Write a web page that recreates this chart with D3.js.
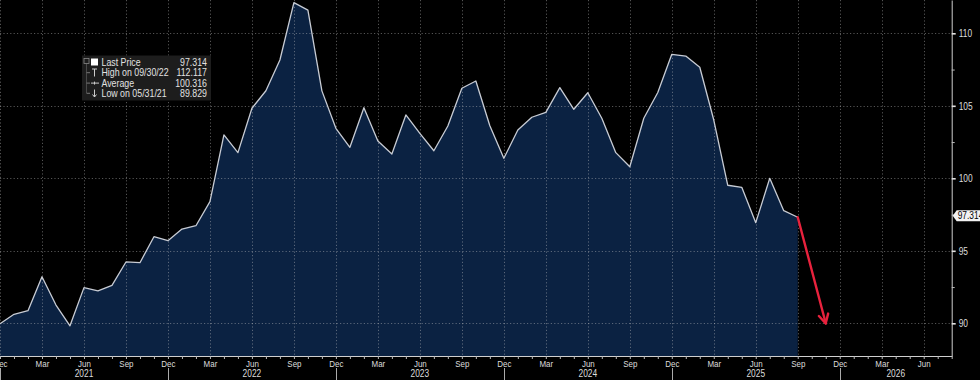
<!DOCTYPE html>
<html><head><meta charset="utf-8">
<script src="https://cdn.jsdelivr.net/npm/d3@7"></script>
<style>
html,body{margin:0;padding:0;background:#000;}
svg{display:block;}
text{font-family:'Liberation Sans',Arial,sans-serif;}
</style></head><body>
<svg id="c" width="980" height="380"></svg>
<script>
// ---- data ----
const months = ["2020-12","2021-01","2021-02","2021-03","2021-04","2021-05","2021-06","2021-07","2021-08","2021-09","2021-10","2021-11",
"2021-12","2022-01","2022-02","2022-03","2022-04","2022-05","2022-06","2022-07","2022-08","2022-09","2022-10","2022-11",
"2022-12","2023-01","2023-02","2023-03","2023-04","2023-05","2023-06","2023-07","2023-08","2023-09","2023-10","2023-11",
"2023-12","2024-01","2024-02","2024-03","2024-04","2024-05","2024-06","2024-07","2024-08","2024-09","2024-10","2024-11",
"2024-12","2025-01","2025-02","2025-03","2025-04","2025-05","2025-06","2025-07","2025-08","2025-09"];
const values = [89.97,90.62,90.87,93.21,91.26,89.829,92.46,92.23,92.62,94.23,94.18,95.97,
95.70,96.50,96.73,98.39,102.99,101.77,104.83,106.04,108.16,112.117,111.6,106.03,
103.45,102.14,104.87,102.57,101.68,104.37,103.1,101.9,103.61,106.21,106.71,103.62,
101.38,103.33,104.21,104.55,106.25,104.76,105.9,104.14,101.77,100.8,104.14,105.92,
108.55,108.43,107.66,104.02,99.52,99.38,96.94,100.0,97.77,97.314];
const axisMonths = ["2020-12","2021-03","2021-06","2021-09","2021-12","2022-03","2022-06","2022-09","2022-12","2023-03","2023-06","2023-09",
"2023-12","2024-03","2024-06","2024-09","2024-12","2025-03","2025-06","2025-09","2025-12","2026-03","2026-06"];
const axisEnd = "2026-08";
const monthNames = ["Jan","Feb","Mar","Apr","May","Jun","Jul","Aug","Sep","Oct","Nov","Dec"];
const yearLabels = ["2021","2022","2023","2024","2025","2026"];
const yTicks = [90,95,100,105,110];
const yMinorTicks = [92.5,97.5,102.5,107.5];
const legendLabels = ["Last Price","High on 09/30/22","Average","Low on 05/31/21"];
const legendValues = ["97.314","112.117","100.316","89.829"];
const lastPrice = 97.314;
const arrowFrom = ["2025-09", 97.314];
const arrowTo = ["2025-11", 90];

// ---- helpers ----
const mIdx = s => { const [yy,mm] = s.split("-").map(Number); return (yy-2020)*12 + (mm-12); };
const svg = d3.select("#c");
svg.append("rect").attr("width",980).attr("height",380).attr("fill","#000");

const W = 951.7, H = 356;
const x = d3.scaleLinear().domain([0, mIdx(axisEnd)]).range([0, W]);
const y = d3.scaleLinear().domain([87.745, 112.297]).range([H, 0]);

// area + line
const pts = months.map((m,i)=>({i:mIdx(m), v:values[i]}));
svg.append("path").datum(pts)
  .attr("d", d3.area().x(d=>x(d.i)).y0(H).y1(d=>y(d.v)))
  .attr("fill","#0b2242");

// grid
const grid = svg.append("g").attr("stroke","rgba(200,200,200,0.42)").attr("stroke-dasharray","1.2,2.2").attr("stroke-width",1);
grid.selectAll("line.h").data(yTicks).enter().append("line")
  .attr("x1",0).attr("x2",W).attr("y1",d=>Math.round(y(d))+0.5).attr("y2",d=>Math.round(y(d))+0.5);
grid.selectAll("line.v").data(axisMonths).enter().append("line")
  .attr("x1",d=>Math.round(x(mIdx(d)))+0.5).attr("x2",d=>Math.round(x(mIdx(d)))+0.5).attr("y1",0).attr("y2",H);

svg.append("path").datum(pts)
  .attr("d", d3.line().x(d=>x(d.i)).y(d=>y(d.v)))
  .attr("fill","none").attr("stroke","#c8ccd4").attr("stroke-width",1.3).attr("stroke-linejoin","round");

// right axis
const ya = svg.append("g").attr("transform",`translate(${W},0)`)
  .call(d3.axisRight(y).tickValues(yTicks).tickSize(4).tickSizeOuter(0).tickPadding(3));
ya.select(".domain").attr("stroke","#cfcfcf");
ya.selectAll(".tick line").attr("stroke","#e0e0e0").attr("stroke-width",1.6);
ya.selectAll("text").attr("fill","#dcdcdc").attr("font-size","10px");
const ym = svg.append("g").attr("transform",`translate(${W},0)`)
  .call(d3.axisRight(y).tickValues(yMinorTicks).tickSize(3).tickSizeOuter(0).tickFormat(""));
ym.select(".domain").remove();
ym.selectAll(".tick line").attr("stroke","#bbb");

// bottom axis
const allTicks = d3.range(0, mIdx(axisEnd)+1);
const xa = svg.append("g").attr("transform",`translate(0,${H})`)
  .call(d3.axisBottom(x).tickValues(allTicks).tickSize(3).tickSizeOuter(0).tickPadding(1)
    .tickFormat(i => axisMonths.some(m=>mIdx(m)===i) ? monthNames[(i+11)%12] : ""));
xa.select(".domain").attr("stroke","#cfcfcf");
xa.selectAll(".tick line").attr("stroke","#bbb");
xa.selectAll("text").attr("fill","#dcdcdc").attr("font-size","9.5px");

// year separators + labels
const decs = axisMonths.filter(m=>m.endsWith("-12")).map(mIdx);
svg.append("g").selectAll("line").data(decs).enter().append("line")
  .attr("x1",d=>Math.round(x(d))+0.5).attr("x2",d=>Math.round(x(d))+0.5).attr("y1",368).attr("y2",380)
  .attr("stroke","#aaa");
const bounds = decs.concat([mIdx(axisEnd)]);
svg.append("g").selectAll("text").data(yearLabels).enter().append("text")
  .attr("x",(d,k)=>(x(bounds[k])+x(bounds[k+1]))/2).attr("y",377.5)
  .attr("text-anchor","middle").attr("fill","#dcdcdc").attr("font-size","10px").text(d=>d);

// last price tag
const ty = y(lastPrice) - 1.5;
svg.append("path").attr("d",`M${W+1},${ty} L${W+5},${ty-5.5} L985,${ty-5.5} L985,${ty+5.5} L${W+5},${ty+5.5} Z`).attr("fill","#f2f2f2");
svg.append("text").attr("x",W+6).attr("y",ty+3.6).attr("fill","#000").attr("font-size","10px").text(lastPrice.toFixed(3));

// red arrow
const ax1 = x(mIdx(arrowFrom[0])), ay1 = y(arrowFrom[1]);
const ax2 = x(mIdx(arrowTo[0])), ay2 = y(arrowTo[1]);
const ang = Math.atan2(ay2-ay1, ax2-ax1);
const red = svg.append("g").attr("stroke","#e8223d").attr("stroke-width",2.4).attr("stroke-linecap","round").attr("fill","none");
red.append("line").attr("x1",ax1).attr("y1",ay1).attr("x2",ax2).attr("y2",ay2);
[0.5,-0.5].forEach(a=>{
  red.append("line").attr("x1",ax2).attr("y1",ay2)
    .attr("x2",ax2-10*Math.cos(ang+a)).attr("y2",ay2-10*Math.sin(ang+a));
});

// legend
const lg = svg.append("g");
lg.append("rect").attr("x",82).attr("y",55.5).attr("width",129).attr("height",45).attr("fill","#1d1d1d");
const rowY = [62.3,72.7,83.1,93.3];
lg.append("rect").attr("x",84).attr("y",58.5).attr("width",5).attr("height",5).attr("fill","none").attr("stroke","#888").attr("stroke-width",0.8);
lg.append("line").attr("x1",86.5).attr("x2",86.5).attr("y1",63.5).attr("y2",rowY[3]).attr("stroke","#777").attr("stroke-dasharray","1,1");
rowY.slice(1).forEach(r=>lg.append("line").attr("x1",86.5).attr("x2",90).attr("y1",r).attr("y2",r).attr("stroke","#777"));
lg.append("rect").attr("x",91).attr("y",58.5).attr("width",7).attr("height",7).attr("fill","#fff");
lg.append("line").attr("x1",94.5).attr("x2",94.5).attr("y1",69).attr("y2",76.5).attr("stroke","#ccc");
lg.append("line").attr("x1",92).attr("x2",97).attr("y1",69).attr("y2",69).attr("stroke","#ccc");
lg.append("line").attr("x1",91).attr("x2",99).attr("y1",rowY[2]).attr("y2",rowY[2]).attr("stroke","#ccc");
lg.append("line").attr("x1",94.5).attr("x2",94.5).attr("y1",rowY[2]-1.5).attr("y2",rowY[2]+1.5).attr("stroke","#ccc");
lg.append("line").attr("x1",94.5).attr("x2",94.5).attr("y1",89.5).attr("y2",97).attr("stroke","#ccc");
lg.append("path").attr("d","M92.5,94.5 L94.5,97 L96.5,94.5").attr("stroke","#ccc").attr("fill","none");
lg.selectAll("text.l").data(legendLabels).enter().append("text")
  .attr("x",101.5).attr("y",(d,k)=>rowY[k]+3.7).attr("fill","#e2e2e2").attr("font-size","10.5px").text(d=>d);
lg.selectAll("text.v").data(legendValues).enter().append("text")
  .attr("x",207).attr("y",(d,k)=>rowY[k]+3.7).attr("text-anchor","end").attr("fill","#e2e2e2").attr("font-size","10.5px").text(d=>d);

// condense all text horizontally (narrow face look)
svg.selectAll("text").each(function(){
  const t = d3.select(this);
  const tx = +(t.attr("x") || 0);
  t.attr("x", 0).attr("transform", `translate(${tx},0) scale(0.84,1)`);
});
</script>
</body></html>
